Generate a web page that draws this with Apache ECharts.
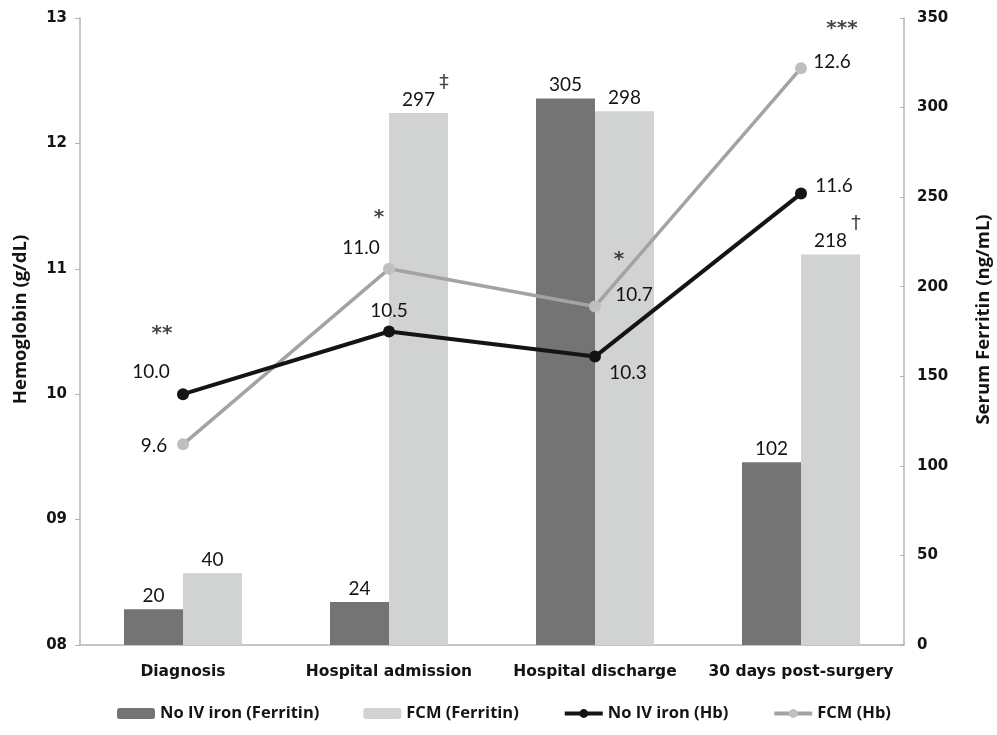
<!DOCTYPE html>
<html>
<head>
<meta charset="utf-8">
<script src="https://cdn.jsdelivr.net/npm/echarts@6/dist/echarts.min.js"></script>
<style>
html,body{margin:0;padding:0;background:#fff;}
#chart{width:997px;height:735px;}
</style>
</head>
<body>
<div id="chart"></div>
<script>
// ---- data ----
var categories = ['Diagnosis', 'Hospital admission', 'Hospital discharge', '30 days post-surgery'];
var ferritinNoIV = [20, 24, 305, 102];
var ferritinFCM = [40, 297, 298, 218];
var hbNoIV = [10.0, 10.5, 10.3, 11.6];
var hbFCM = [9.6, 11.0, 10.7, 12.6];
var hbMarks = ['**', '*', '*', '***'];
var ferritinMarks = ['', '\u2021', '', '\u2020'];
var hbTicks = ['08', '09', '10', '11', '12', '13'];

// ---- label placement (styles) ----
var noIVOffsets = [[-32, -22], [0, -21], [33, 16], [33, -8]];
var fcmOffsets = [[-29, 2], [-28, -21], [39, -12], [31, -6]];
var hbMarkOffsets = [[-21, -60], [-10, -51], [24, -47], [41, -39]];
var ferMarkOffset = [55, -30];

var labelFont = {fontFamily: 'Lato', fontSize: 19, color: '#141414'};

function hbData(vals, offs) {
  return vals.map(function (v, i) {
    return {value: v, label: {offset: offs[i]}};
  });
}
var hbTop = hbNoIV.map(function (v, i) { return Math.max(v, hbFCM[i]); });

var chart = echarts.init(document.getElementById('chart'), null, {renderer: 'canvas'});
chart.setOption({
  animation: false,
  backgroundColor: '#ffffff',
  grid: {left: 80, right: 93, top: 18, bottom: 90, outerBoundsMode: 'none', containLabel: false},
  legend: {
    top: 700,
    left: 112,
    itemWidth: 38,
    itemHeight: 11,
    itemGap: 44,
    textStyle: {fontFamily: 'Open Sans', fontWeight: 'bold', fontSize: 16.5, color: '#141414'},
    data: [
      {name: 'No IV iron (Ferritin)'},
      {name: 'FCM (Ferritin)'},
      {name: 'No IV iron (Hb)', lineStyle: {width: 4}},
      {name: 'FCM (Hb)', lineStyle: {width: 4}}
    ]
  },
  xAxis: {
    type: 'category',
    data: categories,
    axisLine: {lineStyle: {color: '#b3b3b3', width: 1.5}},
    axisTick: {show: false},
    axisLabel: {interval: 0, fontFamily: 'DejaVu Sans', fontWeight: 'bold', fontSize: 15.5, color: '#141414', margin: 19}
  },
  yAxis: [{
    type: 'value', min: 8, max: 13, interval: 1,
    name: 'Hemoglobin (g/dL)', nameLocation: 'middle', nameGap: 50, nameRotate: 90,
    nameTextStyle: {fontFamily: 'Open Sans', fontWeight: 'bold', fontSize: 18.5, color: '#141414', padding: [0, 0, 0, 24]},
    splitLine: {show: false},
    axisLine: {show: true, lineStyle: {color: '#b3b3b3', width: 1.5}},
    axisTick: {show: true, length: 5, lineStyle: {color: '#b3b3b3'}},
    axisLabel: {fontFamily: 'DejaVu Sans', fontWeight: 'bold', fontSize: 15, color: '#141414', margin: 13,
      formatter: function (v) { return hbTicks[Math.round(v - 8)]; }}
  }, {
    type: 'value', min: 0, max: 350, interval: 50,
    name: 'Serum Ferritin (ng/mL)', nameLocation: 'middle', nameGap: 70, nameRotate: 90,
    nameTextStyle: {fontFamily: 'Open Sans', fontWeight: 'bold', fontSize: 18.5, color: '#141414', padding: [0, 0, 0, 24]},
    splitLine: {show: false},
    axisLine: {show: true, lineStyle: {color: '#b3b3b3', width: 1.5}},
    axisTick: {show: true, inside: true, length: 4, lineStyle: {color: '#b3b3b3'}},
    axisLabel: {fontFamily: 'DejaVu Sans', fontWeight: 'bold', fontSize: 15, color: '#141414', margin: 13}
  }],
  series: [{
    name: 'No IV iron (Ferritin)', type: 'bar', yAxisIndex: 1,
    data: ferritinNoIV, barWidth: 59, barGap: '0%',
    itemStyle: {color: '#747474'},
    label: Object.assign({show: true, position: 'top', distance: 4}, labelFont),
    z: 2
  }, {
    name: 'FCM (Ferritin)', type: 'bar', yAxisIndex: 1,
    data: ferritinFCM, barWidth: 59, barGap: '0%',
    itemStyle: {color: '#d1d2d2'},
    label: Object.assign({show: true, position: 'top', distance: 4}, labelFont),
    z: 2
  }, {
    name: 'No IV iron (Hb)', type: 'line', yAxisIndex: 0,
    data: hbData(hbNoIV, noIVOffsets),
    symbol: 'circle', symbolSize: 12,
    lineStyle: {color: '#141414', width: 4},
    itemStyle: {color: '#141414'},
    label: Object.assign({show: true, position: 'inside', formatter: function (p) { return p.value.toFixed(1); }}, labelFont),
    z: 4
  }, {
    name: 'FCM (Hb)', type: 'line', yAxisIndex: 0,
    data: hbData(hbFCM, fcmOffsets),
    symbol: 'circle', symbolSize: 12,
    lineStyle: {color: '#a3a3a3', width: 3.5},
    itemStyle: {color: '#bfbfbf'},
    label: Object.assign({show: true, position: 'inside', formatter: function (p) { return p.value.toFixed(1); }}, labelFont),
    z: 3
  }, {
    name: 'hbMarks', type: 'scatter', yAxisIndex: 0, silent: true,
    data: hbTop.map(function (v, i) { return {value: v, label: {offset: hbMarkOffsets[i]}}; }),
    symbolSize: 0,
    label: {show: true, position: 'inside', fontFamily: 'DejaVu Sans', fontSize: 20, fontWeight: 'bold', color: '#141414',
      formatter: function (p) { return hbMarks[p.dataIndex]; }},
    z: 5
  }, {
    name: 'ferMarks', type: 'scatter', yAxisIndex: 1, silent: true,
    data: ferritinFCM.map(function (v, i) { return ferritinMarks[i] ? v : '-'; }),
    symbolSize: 0,
    label: {show: true, position: 'inside', offset: ferMarkOffset, fontFamily: 'DejaVu Sans', fontSize: 19, color: '#141414',
      formatter: function (p) { return ferritinMarks[p.dataIndex]; }},
    z: 5
  }]
});
</script>
</body>
</html>
